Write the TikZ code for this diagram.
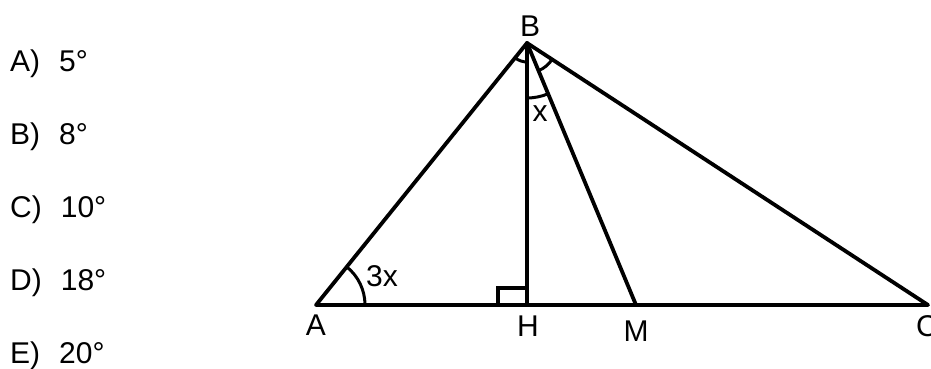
\documentclass[tikz,border=0pt]{standalone}
\usepackage{fontspec}
\setmainfont{Liberation Sans}
\usetikzlibrary{angles}

\begin{document}
\begin{tikzpicture}[
    x=1pt, y=1pt,
    font=\fontsize{30}{36}\selectfont,
    edge/.style={draw=black, line width=3.8pt, line cap=round, line join=round},
    anglemark/.style={draw=black, line width=3pt},
    lbl/.style={inner sep=0pt, anchor=base},
    opt/.style={inner sep=0pt, anchor=base west}
]
\useasboundingbox (0,0) rectangle (931,369);

% Answer options
\foreach \letter/\val [count=\i] in {A/5, B/8, C/10, D/18, E/20} {
    \node[opt] (opt\letter) at (10, {297-73*(\i-1)}) {\letter)\hspace{19pt}\val°};
}

% Points of the triangle
\coordinate (A) at (316,64);
\coordinate (H) at (527,64);
\coordinate (M) at (636,64);
\coordinate (C) at (928,64);
\coordinate (B) at (527,326);

% Angle marks
\pic[anglemark, angle radius=49pt] {angle=C--A--B};
\pic[anglemark, angle radius=19pt] {angle=A--B--H};
\pic[anglemark, angle radius=30pt] {angle=M--B--C};
\pic[anglemark, angle radius=55pt] {angle=H--B--M};
\draw[anglemark, line width=3.5pt] ([xshift=-29pt]H) rectangle ([yshift=17pt]H);

% Sides and cevians
\draw[edge] (A) -- (C) -- (B) -- cycle;
\draw[edge] (B) -- (H);
\draw[edge] (B) -- (M);

% Labels
\node[lbl] (lblB) at (530,332) {B};
\node[lbl] (lblA) at (316,33) {A};
\node[lbl] (lblH) at (528,32) {H};
\node[lbl] (lblM) at (636,27) {M};
\node[lbl, anchor=base west] (lblC) at (916,32) {C};
\node[lbl] (lblx) at (540,247) {x};
\node[lbl, anchor=base west] (lbl3x) at (366,82) {3x};

\end{tikzpicture}
\end{document}
